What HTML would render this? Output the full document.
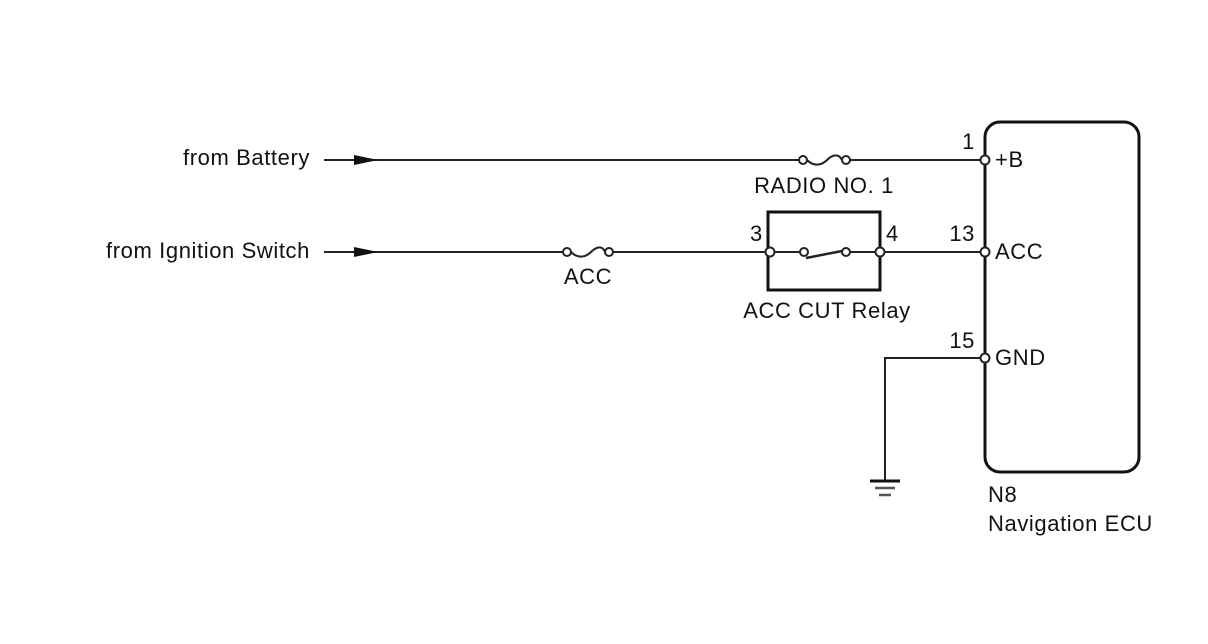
<!DOCTYPE html>
<html><head><meta charset="utf-8"><style>
html,body{margin:0;padding:0;background:#fff;}
svg{display:block;}
text{font-family:"Liberation Sans",Arial,sans-serif;font-size:22px;letter-spacing:0.6px;fill:#111;}
</style></head><body>
<svg width="1208" height="644" viewBox="0 0 1208 644" xmlns="http://www.w3.org/2000/svg">
<g stroke="#222" fill="none" stroke-width="2">
<line x1="324" y1="160" x2="799" y2="160"/>
<line x1="850" y1="160" x2="981" y2="160"/>
<path d="M807 160 C815 168 823 164 827 160 C831 156 838 152 842 160"/>
<line x1="324" y1="252" x2="563" y2="252"/>
<line x1="613" y1="252" x2="766" y2="252"/>
<path d="M571 252 C579 260 587 256 591 252 C595 248 602 244 605 252"/>
<line x1="774" y1="252" x2="800" y2="252"/>
<line x1="850" y1="252" x2="876" y2="252"/>
<line x1="884" y1="252" x2="981" y2="252"/>
<path d="M806 258 L842 251" stroke-width="2.5"/>
<polyline points="981,358 885,358 885,481"/>
</g>
<g stroke="#111" fill="none" stroke-width="3">
<rect x="768" y="212" width="112" height="78"/>
<rect x="985" y="122" width="154" height="350" rx="15"/>
<line x1="870" y1="481" x2="900" y2="481"/>
</g>
<g stroke="#555" stroke-width="2.5">
<line x1="875" y1="488" x2="895" y2="488"/>
<line x1="879" y1="495" x2="891" y2="495"/>
</g>
<g fill="#111">
<polygon points="354,155 378,160 354,165"/>
<polygon points="354,247 378,252 354,257"/>
</g>
<g fill="#fff" stroke="#222" stroke-width="2">
<circle cx="803" cy="160" r="4"/><circle cx="846" cy="160" r="4"/>
<circle cx="567" cy="252" r="4"/><circle cx="609" cy="252" r="4"/>
<circle cx="770" cy="252" r="4.5"/><circle cx="804" cy="252" r="4"/>
<circle cx="846" cy="252" r="4"/><circle cx="880" cy="252" r="4.5"/>
<circle cx="985" cy="160" r="4.5"/><circle cx="985" cy="252" r="4.5"/><circle cx="985" cy="358" r="4.5"/>
</g>
<text x="310" y="165" text-anchor="end">from Battery</text>
<text x="310" y="258" text-anchor="end">from Ignition Switch</text>
<text x="824" y="193" text-anchor="middle">RADIO NO. 1</text>
<text x="588" y="284" text-anchor="middle">ACC</text>
<text x="827" y="318" text-anchor="middle">ACC CUT Relay</text>
<text x="750" y="241">3</text>
<text x="886" y="241">4</text>
<text x="975" y="149" text-anchor="end">1</text>
<text x="975" y="241" text-anchor="end">13</text>
<text x="975" y="348" text-anchor="end">15</text>
<text x="995" y="167">+B</text>
<text x="995" y="259">ACC</text>
<text x="995" y="365">GND</text>
<text x="988" y="502">N8</text>
<text x="988" y="531">Navigation ECU</text>
</svg>
</body></html>
